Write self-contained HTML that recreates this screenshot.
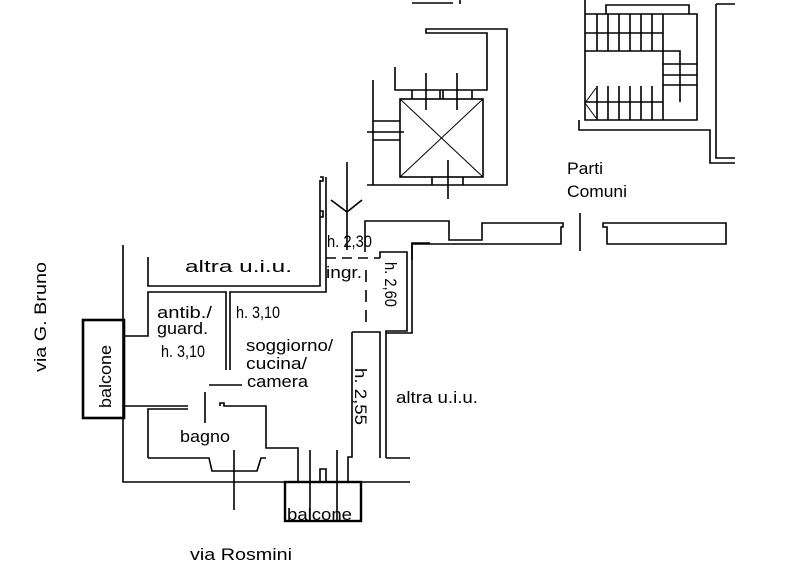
<!DOCTYPE html>
<html><head><style>
body{margin:0;background:#fff}
svg{display:block}
text{font-family:"Liberation Sans",Arial,sans-serif;font-size:17px;fill:#000}
</style></head><body>
<svg width="800" height="584" viewBox="0 0 800 584" xmlns="http://www.w3.org/2000/svg">
<g stroke="#000" stroke-width="1.6" fill="none">
<path d="M123 245V482H410"/>
<rect x="83" y="320" width="41" height="98" stroke-width="2.6"/>
<path d="M148 257V286H320V180M320 177h3v4h-3v30h3v6h-3"/>
<path d="M326 177V292H230V370M226 370V292H148V336H123"/>
<path d="M209 385H242M123 406H188M148 458V409H188M205 392V423"/>
<path d="M220 406V403h4v3H266V448H298V482"/>
<path d="M148 458H209L212 471H257L261 458H266"/>
<path d="M234 450V510"/>
<rect x="285" y="482" width="76" height="39" stroke-width="2.4"/>
<path d="M310 450V520M337 450V520M320 482V469h6v13M352 332V457H348V482"/>
<path d="M352 332H380V458M386 458V331H407V252H380V258M386 458H410"/>
<path d="M412 260V243H430M412 260V333H386"/>
<path d="M326 258H380" stroke-dasharray="10,6"/>
<path d="M366 270V330" stroke-dasharray="12,8"/>
<path d="M365 252V221H449V240H482V223H563V227L561 227V244H412V260"/>
<path d="M603 223H726V244H607V227H603Z"/>
<path d="M580 213V251"/>
<path d="M347 162V250M331 200L347 212L362 200"/>
<rect x="400" y="99" width="83" height="78"/>
<path d="M400 99L483 177M483 99L400 177" stroke-width="1"/>
<path d="M373 80V185H367M367 185H507V29H426V33H432M432 33H487V90H395V67"/>
<path d="M412 90v9M440 90v9M443 90v9M472 90v9M426 73V110M457 73V110"/>
<path d="M373 121H400M373 140H400M367 132H404"/>
<path d="M432 177v8M463 177v8M448 160V199"/>
<path d="M412 3H453M460 0V4"/>
<path d="M585 0V120H697V14H585M606 14V5H689V14"/>
<path d="M585 33H663M585 51H663V102H585M663 14V120M663 51H680V102M663 64H697M663 75H697M663 85H697"/>
<path d="M597 14V51M608 14V51M619 14V51M630 14V51M641 14V51M652 14V51"/>
<path d="M597 86V120M608 86V120M619 86V120M630 86V120M641 86V120M652 86V120"/>
<path d="M596 88L585 103L596 118" stroke-width="1"/>
<path d="M579 120V130H710V163H735M716 4V158H735M716 4H735"/>
</g>
<g lengthAdjust="spacingAndGlyphs">
<text x="185" y="272" textLength="107" lengthAdjust="spacingAndGlyphs">altra u.i.u.</text>
<text x="157" y="318" textLength="55" lengthAdjust="spacingAndGlyphs">antib./</text>
<text x="157" y="334" textLength="51" lengthAdjust="spacingAndGlyphs">guard.</text>
<text x="161" y="357" textLength="44" lengthAdjust="spacingAndGlyphs">h. 3,10</text>
<text x="236" y="318" textLength="44" lengthAdjust="spacingAndGlyphs">h. 3,10</text>
<text x="246" y="351" textLength="87" lengthAdjust="spacingAndGlyphs">soggiorno/</text>
<text x="246" y="369" textLength="61" lengthAdjust="spacingAndGlyphs">cucina/</text>
<text x="247" y="387" textLength="61" lengthAdjust="spacingAndGlyphs">camera</text>
<text x="180" y="442" textLength="50" lengthAdjust="spacingAndGlyphs">bagno</text>
<text x="327" y="247" textLength="45" lengthAdjust="spacingAndGlyphs">h. 2,30</text>
<text x="326" y="278" textLength="36" lengthAdjust="spacingAndGlyphs">ingr.</text>
<text x="396" y="403" textLength="82" lengthAdjust="spacingAndGlyphs">altra u.i.u.</text>
<text x="567" y="174" textLength="36" lengthAdjust="spacingAndGlyphs">Parti</text>
<text x="567" y="197" textLength="60" lengthAdjust="spacingAndGlyphs">Comuni</text>
<text x="190" y="560" textLength="102" lengthAdjust="spacingAndGlyphs">via Rosmini</text>
<text x="287" y="520" textLength="65" lengthAdjust="spacingAndGlyphs">balcone</text>
<text transform="translate(46,372) rotate(-90)" textLength="110" lengthAdjust="spacingAndGlyphs">via G. Bruno</text>
<text transform="translate(111,408) rotate(-90)" textLength="63" lengthAdjust="spacingAndGlyphs">balcone</text>
<text transform="translate(385,262) rotate(90)" textLength="45" lengthAdjust="spacingAndGlyphs">h. 2,60</text>
<text transform="translate(355,368) rotate(90)" textLength="57" lengthAdjust="spacingAndGlyphs">h. 2,55</text>
</g>
</svg>
</body></html>
